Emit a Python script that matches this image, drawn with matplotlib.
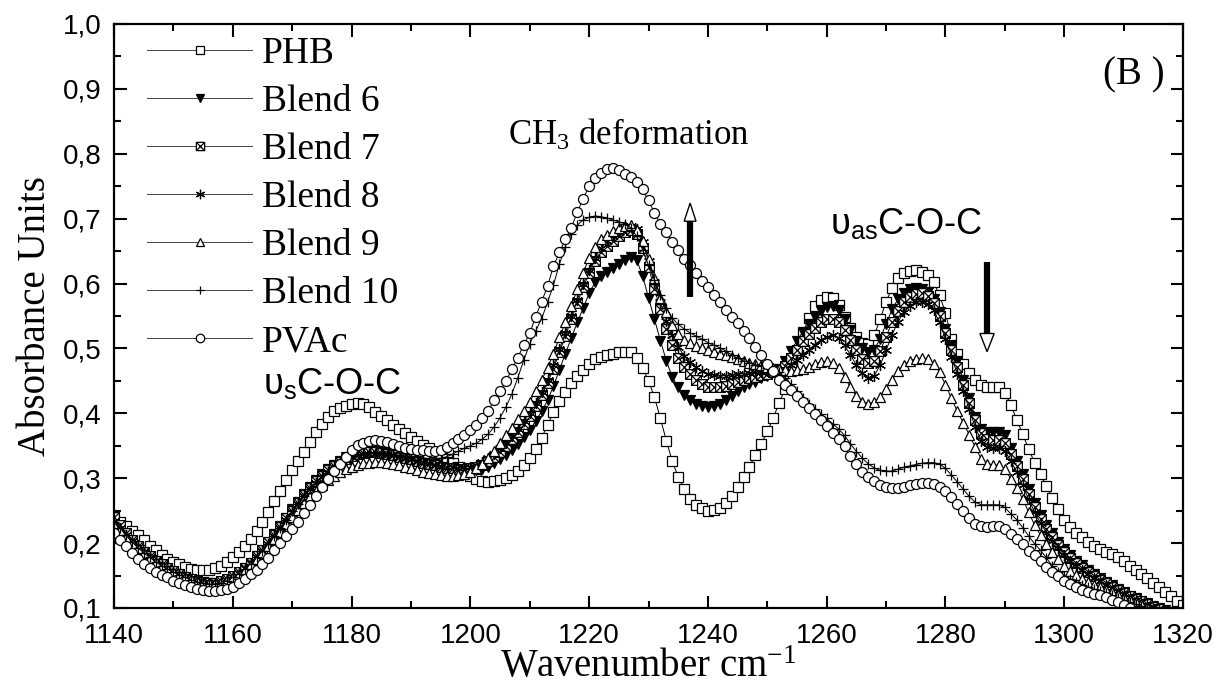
import numpy as np
import matplotlib
matplotlib.use("Agg")
import matplotlib.pyplot as plt
from matplotlib.path import Path
from matplotlib.patches import Polygon
from matplotlib.ticker import MultipleLocator, FuncFormatter

plt.rcParams['mathtext.fontset'] = 'custom'
plt.rcParams['mathtext.rm'] = 'Liberation Serif'
plt.rcParams['mathtext.it'] = 'Liberation Serif:italic'
plt.rcParams['mathtext.sf'] = 'Liberation Sans'

SERIF = ['Liberation Serif', 'DejaVu Serif']
SANS = ['Liberation Sans', 'DejaVu Sans']

# absorbance, one value per cm-1 starting at 1140
wn_start = 1140

phb = [
    .240, .233, .226, .219, .212, .204, .196, .189, .182, .176,
    .171, .167, .163, .160, .159, .158, .159, .161, .165, .171,
    .178, .187, .196, .206, .218, .232, .248, .265, .281, .297,
    .313, .327, .341, .356, .371, .384, .395, .403, .408, .412,
    .415, .416, .414, .409, .402, .396, .389, .382, .376, .370,
    .363, .357, .351, .346, .340, .335, .330, .324, .317, .309,
    .303, .298, .295, .294, .295, .297, .301, .305, .311, .320,
    .331, .345, .362, .382, .402, .419, .433, .446, .457, .467,
    .476, .483, .487, .490, .492, .494, .495, .494, .485, .470,
    .450, .425, .392, .358, .326, .302, .284, .268, .259, .254,
    .250, .251, .254, .262, .272, .287, .302, .318, .336, .353,
    .372, .393, .416, .438, .468, .498, .524, .547, .565, .575,
    .579, .578, .567, .549, .531, .517, .509, .507, .520, .545,
    .572, .593, .608, .617, .620, .621, .618, .613, .602, .582,
    .555, .515, .492, .476, .462, .451, .443, .440, .440, .440,
    .432, .413, .390, .368, .345, .324, .306, .288, .269, .253,
    .236, .225, .216, .209, .202, .196, .191, .187, .183, .178,
    .172, .165, .158, .152, .146, .139, .133, .125, .118, .111,
    .105,
]

blend6 = [
    .236, .226, .214, .203, .194, .186, .179, .172, .166, .161,
    .156, .152, .148, .144, .141, .139, .138, .138, .140, .143,
    .148, .154, .161, .170, .180, .190, .202, .214, .226, .239,
    .252, .264, .276, .287, .297, .306, .314, .321, .327, .332,
    .336, .339, .341, .342, .342, .341, .339, .337, .334, .332,
    .329, .327, .324, .322, .319, .317, .315, .313, .312, .311,
    .311, .312, .314, .318, .323, .329, .336, .344, .353, .363,
    .374, .388, .403, .420, .442, .467, .492, .516, .540, .562,
    .585, .602, .612, .618, .624, .630, .637, .641, .636, .612,
    .578, .545, .512, .481, .456, .440, .428, .420, .414, .411,
    .410, .411, .415, .420, .427, .434, .440, .445, .449, .454,
    .458, .463, .468, .480, .496, .512, .526, .538, .549, .558,
    .564, .565, .559, .545, .528, .512, .500, .494, .498, .515,
    .538, .560, .576, .586, .591, .593, .592, .587, .576, .556,
    .530, .505, .480, .452, .423, .395, .376, .371, .371, .371,
    .366, .347, .327, .306, .284, .262, .243, .228, .215, .202,
    .191, .181, .173, .166, .158, .152, .146, .140, .135, .130,
    .124, .119, .115, .111, .107, .103, .100, .097,
]

blend7 = [
    .240, .228, .216, .205, .195, .187, .180, .173, .167, .162,
    .157, .152, .148, .145, .142, .140, .139, .139, .141, .144,
    .149, .155, .162, .170, .180, .190, .201, .213, .225, .238,
    .250, .262, .274, .285, .295, .304, .312, .319, .325, .330,
    .334, .337, .339, .340, .340, .339, .338, .336, .333, .331,
    .329, .326, .324, .322, .320, .318, .316, .315, .314, .314,
    .315, .317, .321, .326, .333, .341, .350, .360, .371, .383,
    .396, .411, .428, .447, .469, .494, .519, .545, .570, .594,
    .616, .634, .648, .658, .666, .673, .679, .682, .676, .655,
    .625, .592, .560, .530, .505, .486, .471, .460, .451, .445,
    .441, .440, .440, .442, .445, .448, .451, .454, .456, .459,
    .461, .463, .465, .473, .485, .498, .511, .522, .532, .540,
    .545, .546, .541, .529, .513, .497, .484, .477, .480, .496,
    .518, .540, .558, .571, .580, .584, .585, .581, .570, .550,
    .524, .497, .471, .444, .416, .389, .369, .360, .359, .359,
    .355, .338, .319, .298, .276, .255, .237, .222, .209, .197,
    .186, .177, .169, .162, .155, .149, .143, .138, .133, .128,
    .123, .118, .114, .110, .106, .102, .099,
]

blend8 = [
    .234, .224, .213, .203, .194, .186, .179, .172, .166, .161,
    .156, .151, .147, .144, .141, .139, .138, .138, .140, .143,
    .148, .154, .161, .169, .178, .188, .199, .211, .223, .236,
    .248, .260, .272, .283, .293, .302, .310, .317, .323, .328,
    .332, .335, .337, .338, .338, .338, .337, .335, .333, .331,
    .329, .327, .325, .323, .321, .319, .318, .317, .316, .317,
    .318, .321, .325, .331, .338, .346, .355, .365, .376, .388,
    .401, .416, .433, .452, .474, .499, .524, .550, .575, .599,
    .621, .640, .655, .665, .673, .680, .686, .689, .684, .664,
    .634, .602, .571, .543, .520, .502, .489, .479, .471, .465,
    .461, .459, .458, .458, .459, .460, .461, .462, .463, .464,
    .465, .465, .466, .469, .475, .482, .490, .498, .506, .513,
    .518, .520, .516, .505, .490, .474, .462, .455, .458, .474,
    .497, .521, .541, .556, .566, .571, .572, .569, .559, .540,
    .514, .487, .461, .434, .406, .379, .358, .348, .346, .346,
    .342, .327, .309, .289, .268, .248, .231, .216, .203, .192,
    .182, .173, .165, .158, .152, .146, .141, .136, .131, .126,
    .121, .117, .113, .109, .105, .101, .098,
]

blend9 = [
    .228, .220, .210, .200, .192, .184, .177, .171, .165, .160,
    .155, .151, .147, .144, .141, .139, .138, .138, .140, .143,
    .147, .152, .159, .167, .176, .185, .195, .206, .217, .229,
    .240, .251, .262, .272, .281, .289, .297, .303, .309, .314,
    .318, .321, .323, .324, .325, .325, .324, .322, .320, .318,
    .316, .313, .310, .308, .306, .305, .304, .304, .305, .307,
    .310, .315, .322, .331, .342, .354, .366, .378, .391, .404,
    .418, .434, .451, .470, .492, .517, .540, .565, .591, .616,
    .640, .657, .668, .675, .681, .686, .689, .690, .683, .665,
    .638, .608, .578, .556, .536, .522, .513, .508, .504, .500,
    .497, .495, .492, .490, .487, .484, .481, .478, .476, .474,
    .472, .470, .468, .466, .465, .466, .468, .472, .476, .479,
    .480, .478, .470, .456, .440, .427, .418, .415, .417, .425,
    .438, .452, .465, .475, .481, .484, .485, .483, .476, .464,
    .444, .423, .403, .385, .367, .348, .330, .322, .321, .320,
    .314, .299, .285, .268, .248, .228, .212, .199, .186, .175,
    .164, .157, .151, .145, .140, .136, .132, .128, .124, .120,
    .116, .113, .109, .106, .102, .099,
]

blend10 = [
    .232, .223, .212, .202, .193, .185, .178, .171, .165, .160,
    .155, .151, .147, .143, .140, .138, .137, .137, .139, .142,
    .147, .153, .160, .168, .178, .188, .199, .211, .223, .236,
    .249, .261, .273, .284, .294, .303, .311, .318, .324, .329,
    .333, .336, .338, .339, .339, .338, .337, .336, .335, .334,
    .333, .332, .331, .330, .330, .331, .333, .337, .342, .346,
    .350, .354, .360, .368, .379, .393, .410, .430, .455, .482,
    .507, .527, .546, .571, .598, .630, .657, .677, .690, .698,
    .702, .704, .703, .701, .698, .695, .692, .686, .673, .652,
    .628, .605, .582, .562, .547, .537, .530, .524, .519, .514,
    .509, .505, .501, .496, .490, .485, .481, .478, .475, .473,
    .470, .467, .463, .455, .445, .434, .424, .414, .406, .399,
    .392, .384, .376, .366, .353, .341, .331, .322, .316, .312,
    .311, .311, .314, .317, .319, .321, .323, .324, .324, .322,
    .315, .305, .294, .283, .272, .263, .259, .259, .259, .259,
    .255, .245, .236, .224, .211, .199, .189, .177, .165, .156,
    .150, .145, .140, .136, .132, .129, .126, .123, .120, .116,
    .112, .109, .106, .103, .100, .097,
]

pvac = [
    .215, .205, .195, .184, .175, .168, .162, .156, .151, .147,
    .142, .138, .135, .132, .129, .127, .126, .126, .127, .129,
    .133, .138, .145, .152, .159, .167, .177, .189, .200, .211,
    .221, .233, .246, .258, .272, .286, .298, .311, .322, .333,
    .344, .351, .355, .358, .359, .358, .356, .352, .349, .347,
    .345, .344, .343, .342, .342, .344, .348, .355, .361, .367,
    .374, .382, .393, .404, .420, .434, .450, .468, .486, .506,
    .523, .549, .572, .596, .627, .648, .668, .686, .710, .731,
    .750, .762, .771, .777, .778, .775, .769, .764, .756, .745,
    .728, .709, .692, .679, .664, .651, .638, .628, .616, .604,
    .595, .583, .572, .559, .549, .539, .527, .516, .502, .490,
    .476, .465, .452, .443, .436, .427, .418, .408, .399, .390,
    .380, .370, .361, .349, .334, .322, .310, .302, .295, .289,
    .286, .285, .285, .287, .289, .291, .293, .293, .291, .287,
    .281, .271, .261, .250, .239, .230, .226, .225, .227, .226,
    .221, .214, .207, .198, .188, .181, .172, .163, .155, .149,
    .142, .137, .132, .128, .125, .122, .120, .117, .113, .109,
    .104, .100, .096,
]

labels = ['PHB', 'Blend 6', 'Blend 7', 'Blend 8', 'Blend 9', 'Blend 10', 'PVAc']
series = [phb, blend6, blend7, blend8, blend9, blend10, pvac]

# square with both diagonals for Blend 7
boxx = Path([(-1, -1), (1, -1), (1, 1), (-1, 1), (-1, -1),
             (-1, -1), (1, 1), (-1, 1), (1, -1)],
            [Path.MOVETO, Path.LINETO, Path.LINETO, Path.LINETO, Path.CLOSEPOLY,
             Path.MOVETO, Path.LINETO, Path.MOVETO, Path.LINETO])

styles = [
    dict(marker='s', ms=6.5, mfc='white'),
    dict(marker='v', ms=7.5, mfc='black'),
    dict(marker=boxx, ms=7, mfc='white'),
    dict(marker=(6, 2, 0), ms=8, mfc='none'),
    dict(marker='^', ms=7.5, mfc='white'),
    dict(marker='+', ms=7.5, mfc='none'),
    dict(marker='o', ms=7.2, mfc='white'),
]

fig = plt.figure(figsize=(12.18, 6.89), dpi=100)
ax = fig.add_axes([0.0936, 0.1176, 0.8777, 0.8476])

for vals, lab, st in zip(series, labels, styles):
    wn = np.arange(wn_start, wn_start + len(vals))
    ax.plot(wn, vals, color='black', lw=0.7, mec='black', mew=0.9,
            label=lab, **st)

ax.set_xlim(1140, 1320)
ax.set_ylim(0.1, 1.0)

ax.xaxis.set_major_locator(MultipleLocator(20))
ax.xaxis.set_minor_locator(MultipleLocator(10))
ax.yaxis.set_major_locator(MultipleLocator(0.1))
ax.yaxis.set_minor_locator(MultipleLocator(0.05))
ax.yaxis.set_major_formatter(FuncFormatter(lambda v, p: f'{v:.1f}'.replace('.', ',')))
ax.xaxis.set_major_formatter(FuncFormatter(lambda v, p: f'{v:.0f}'))

ax.tick_params(which='both', direction='in', top=True, right=True, width=1.5)
ax.tick_params(which='major', length=9)
ax.tick_params(which='minor', length=5)
ax.tick_params(axis='x', pad=11)
ax.tick_params(axis='y', pad=9)
for t in ax.get_xticklabels() + ax.get_yticklabels():
    t.set_fontfamily(SANS)
    t.set_fontsize(20)
for sp in ax.spines.values():
    sp.set_linewidth(1.6)

ax.set_xlabel('Wavenumber cm$^{-1}$', fontfamily=SERIF, fontsize=28, labelpad=0)
ax.set_ylabel('Absorbance Units', fontfamily=SERIF, fontsize=28, labelpad=6)

leg = ax.legend(loc='upper left', bbox_to_anchor=(0.031, 0.978), frameon=False,
                handlelength=2.8, handletextpad=0.25, labelspacing=0.36,
                borderpad=0, borderaxespad=0, markerscale=0.85,
                prop=dict(family=SERIF, size=27))
for h in leg.legend_handles:
    h.set_color('#444444')
    h.set_markeredgecolor('black')

ax.text(1316.9, 0.921, '(B )', ha='right', va='center', fontfamily=SERIF, fontsize=28)
ax.text(1206.3, 0.814, 'CH$_3$ deformation', ha='left', va='baseline',
        fontfamily=SERIF, fontsize=25)
ax.text(1165.1, 0.428, 'υ$_\\mathsf{s}$C-O-C', ha='left', va='baseline',
        fontfamily=SANS, fontsize=26)
ax.text(1260.6, 0.675, 'υ$_\\mathsf{as}$C-O-C', ha='left', va='baseline',
        fontfamily=SANS, fontsize=26)

# arrows: thick black shaft, open head
ax.plot([1237.0, 1237.0], [0.579, 0.696], color='black', lw=4.5, solid_capstyle='butt')
ax.add_patch(Polygon([(1236.0, 0.696), (1238.0, 0.696), (1237.0, 0.724)],
                     closed=True, fc='white', ec='black', lw=1.0, zorder=5))
ax.plot([1287.0, 1287.0], [0.633, 0.523], color='black', lw=4.5, solid_capstyle='butt')
ax.add_patch(Polygon([(1285.8, 0.523), (1288.2, 0.523), (1287.0, 0.495)],
                     closed=True, fc='white', ec='black', lw=1.0, zorder=5))

fig.savefig('out.png', dpi=100)
